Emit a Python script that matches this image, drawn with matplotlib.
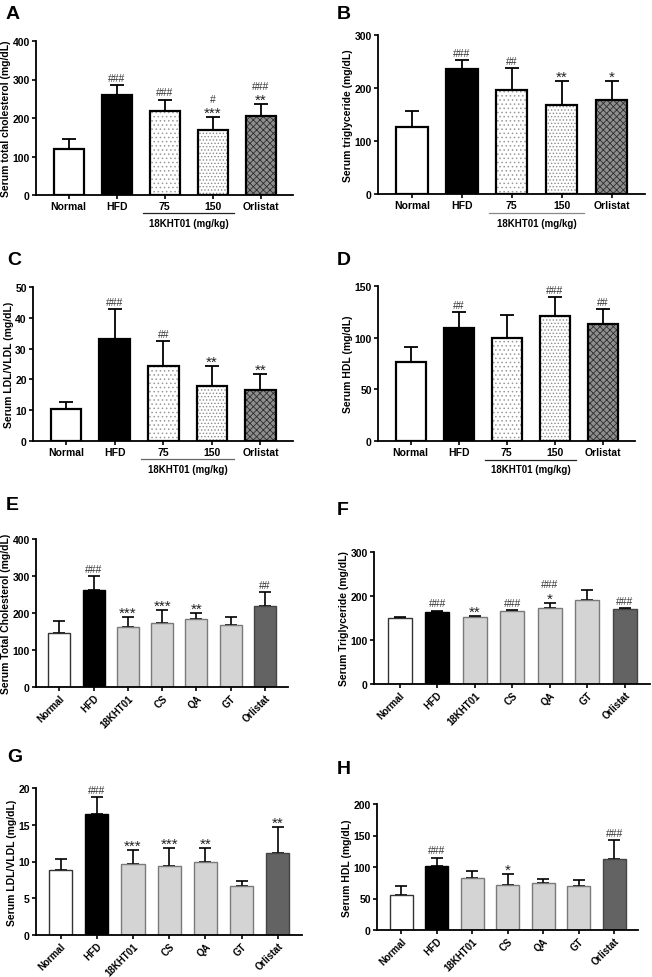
import matplotlib
matplotlib.use("Agg")
import matplotlib.pyplot as plt
from matplotlib.transforms import blended_transform_factory
import numpy as np

plt.rcParams['font.family'] = ['Liberation Sans', 'DejaVu Sans']
plt.rcParams['hatch.linewidth'] = 0.6

# --- data ---
groups5 = ['Normal', 'HFD', '75', '150', 'Orlistat']
groups7 = ['Normal', 'HFD', '18KHT01', 'CS', 'QA', 'GT', 'Orlistat']

tc_a = [120, 260, 218, 170, 205]
tc_a_sd = [25, 25, 30, 33, 32]
tc_a_sig = ['', '###', '###', '#\n***', '###\n**']

tg_b = [127, 235, 197, 167, 178]
tg_b_sd = [30, 17, 41, 47, 35]
tg_b_sig = ['', '###', '##', '**', '*']

ldl_c = [10.3, 33.2, 24.3, 17.7, 16.7]
ldl_c_sd = [2.3, 9.6, 8.1, 6.7, 5.1]
ldl_c_sig = ['', '###', '##', '**', '**']

hdl_d = [76, 109, 100, 121, 113]
hdl_d_sd = [15, 16, 22, 18, 15]
hdl_d_sig = ['', '##', '', '###', '##']

tc_e = [146, 261, 162, 174, 184, 168, 220]
tc_e_sd = [32, 38, 28, 35, 15, 21, 36]
tc_e_sig = ['', '###', '***', '***', '**', '', '##']

tg_f = [151, 164, 153, 165, 173, 191, 170]
tg_f_sd = [2, 3, 2, 3, 12, 22, 3]
tg_f_sig = ['', '###', '**', '###', '###\n*', '', '###']

ldl_g = [8.9, 16.5, 9.6, 9.4, 10.0, 6.6, 11.1]
ldl_g_sd = [1.5, 2.3, 1.9, 2.5, 1.8, 0.7, 3.6]
ldl_g_sig = ['', '###', '***', '***', '**', '', '**']

hdl_h = [56, 102, 82, 72, 74, 70, 113]
hdl_h_sd = [14, 13, 11, 17, 7, 10, 30]
hdl_h_sig = ['', '###', '', '*', '', '', '###']

W, H = 652, 978
fig = plt.figure(figsize=(W / 100, H / 100), dpi=100)


def add_ax(left, right, top, bottom):
    return fig.add_axes([left / W, 1 - bottom / H, (right - left) / W, (bottom - top) / H])


def style_ax(ax, ymax, ystep, ylabel):
    for s in ['top', 'right']:
        ax.spines[s].set_visible(False)
    for s in ['left', 'bottom']:
        ax.spines[s].set_linewidth(1.3)
    ax.set_ylim(0, ymax)
    ax.set_yticks(np.arange(0, ymax + ystep / 2, ystep))
    ax.tick_params(axis='both', width=1.2, length=3, labelsize=7.5, pad=1.5)
    for lab in ax.get_yticklabels():
        lab.set_fontweight('bold')
    ax.set_ylabel(ylabel, fontsize=7.5, fontweight='bold', labelpad=1)


def annotate(ax, x, tops, sig):
    # stack lines from the bottom up; stars drawn larger than hashes
    for xi, t, s in zip(x, tops, sig):
        if not s:
            continue
        off = 1.5
        for line in reversed(s.split('\n')):
            if '*' in line:
                ax.annotate(line, xy=(xi, t), xytext=(0, off - 3.5), textcoords='offset points',
                            ha='center', va='bottom', fontsize=11, color='#222222')
                off += 8
            else:
                ax.annotate(line, xy=(xi, t), xytext=(0, off), textcoords='offset points',
                            ha='center', va='bottom', fontsize=7.5, color='#333333')
                off += 8.5


def panel5(ax, vals, sd, sig, ymax, ystep, ylabel, line_color):
    x = np.arange(len(groups5))
    w = 0.63
    # fills + patterns
    ax.bar(x[0], vals[0], w, color='white', linewidth=0, zorder=2)
    ax.bar(x[1], vals[1], w, color='black', linewidth=0, zorder=2)
    ax.bar(x[2], vals[2], w, color='white', hatch='....', edgecolor='#9a9a9a', linewidth=0, zorder=2)
    ax.bar(x[3], vals[3], w, color='white', hatch='.....', edgecolor='#8a8a8a', linewidth=0, zorder=2)
    ax.bar(x[4], vals[4], w, color='#8e8e8e', hatch='xxxxx', edgecolor='#2e2e2e', linewidth=0, zorder=2)
    # outlines
    ax.bar(x, vals, w, fill=False, edgecolor='black', linewidth=1.6, zorder=3)
    ax.errorbar(x, vals, yerr=[np.zeros(len(sd)), sd], fmt='none', ecolor='black',
                elinewidth=1.3, capsize=5, capthick=1.3, zorder=1)
    style_ax(ax, ymax, ystep, ylabel)
    ax.set_xlim(-0.68, len(x) - 1 + 0.67)
    ax.set_xticks(x)
    ax.set_xticklabels(groups5, fontsize=7.5, fontweight='bold')
    tops = np.array(vals) + np.array(sd)
    annotate(ax, x, tops, sig)
    tr = blended_transform_factory(ax.transData, ax.transAxes)
    ax.plot([1.55, 3.45], [-0.12, -0.12], transform=tr, color=line_color, lw=0.9,
            clip_on=False)
    ax.text(2.5, -0.15, '18KHT01 (mg/kg)', transform=tr, ha='center', va='top',
            fontsize=7, fontweight='bold')


def panel7(ax, vals, sd, sig, ymax, ystep, ylabel):
    x = np.arange(len(groups7))
    w = 0.64
    faces = ['white', 'black', '#d4d4d4', '#d4d4d4', '#d4d4d4', '#d4d4d4', '#636363']
    edges = ['#333333', 'black', '#7a7a7a', '#7a7a7a', '#7a7a7a', '#7a7a7a', '#444444']
    ax.bar(x, vals, w, color=faces, edgecolor=edges, linewidth=1.0, zorder=2)
    ax.errorbar(x, vals, yerr=[np.zeros(len(sd)), sd], fmt='none', ecolor='black',
                elinewidth=1.2, capsize=4.5, capthick=1.2, zorder=1)
    style_ax(ax, ymax, ystep, ylabel)
    ax.set_xlim(-0.68, len(x) - 1 + 0.67)
    ax.set_xticks(x)
    ax.set_xticklabels(groups7, fontsize=7, fontweight='bold', rotation=45,
                       ha='right', rotation_mode='anchor')
    ax.tick_params(axis='x', pad=1)
    tops = np.array(vals) + np.array(sd)
    annotate(ax, x, tops, sig)


axA = add_ax(36, 293, 42, 196)
panel5(axA, tc_a, tc_a_sd, tc_a_sig, 400, 100, 'Serum total cholesterol (mg/dL)', '#222222')
axB = add_ax(378, 645, 36, 195)
panel5(axB, tg_b, tg_b_sd, tg_b_sig, 300, 100, 'Serum triglyceride (mg/dL)', '#888888')
axC = add_ax(33, 293, 288, 442)
panel5(axC, ldl_c, ldl_c_sd, ldl_c_sig, 50, 10, 'Serum LDL/VLDL (mg/dL)', '#666666')
axD = add_ax(378, 635, 287, 442)
panel5(axD, hdl_d, hdl_d_sd, hdl_d_sig, 150, 50, 'Serum HDL (mg/dL)', '#222222')

axE = add_ax(36, 288, 540, 688)
panel7(axE, tc_e, tc_e_sd, tc_e_sig, 400, 100, 'Serum Total Cholesterol (mg/dL)')
axF = add_ax(374, 650, 553, 685)
panel7(axF, tg_f, tg_f_sd, tg_f_sig, 300, 100, 'Serum Triglyceride (mg/dL)')
axG = add_ax(36, 302, 789, 936)
panel7(axG, ldl_g, ldl_g_sd, ldl_g_sig, 20, 5, 'Serum LDL/VLDL (mg/dL)')
axH = add_ax(377, 638, 805, 931)
panel7(axH, hdl_h, hdl_h_sd, hdl_h_sig, 200, 50, 'Serum HDL (mg/dL)')

letters = [('A', 6, 6), ('B', 337, 6), ('C', 7, 252), ('D', 337, 252),
           ('E', 6, 497), ('F', 337, 502), ('G', 7, 749), ('H', 337, 761)]
for lab, px, py in letters:
    fig.text(px / W, 1 - py / H, lab, fontsize=14, fontweight='bold', ha='left', va='top')

fig.savefig('out.png', dpi=100)
